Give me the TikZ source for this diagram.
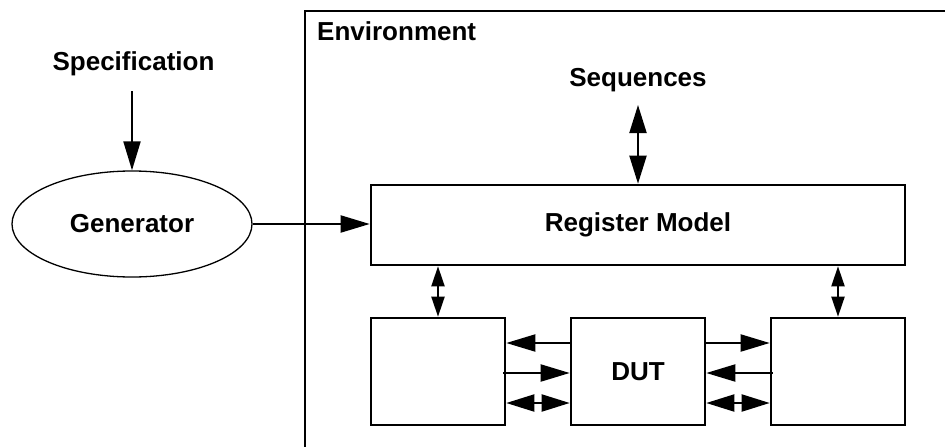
\documentclass[tikz,border=0pt]{standalone}
\usepackage{fontspec}
\setmainfont{Liberation Sans}
\usetikzlibrary{arrows.meta,shapes.geometric}
\begin{document}
\begin{tikzpicture}[x=1pt,y=-1pt,
  lbl/.style={font=\fontsize{26}{30}\selectfont\bfseries, inner sep=0pt},
  blk/.style={draw, line width=2.6pt, inner sep=0pt},
  arr/.style={line width=2pt, -{Triangle[length=29pt,width=17pt]}},
  darr/.style={line width=2pt, {Triangle[length=28pt,width=17pt]}-{Triangle[length=28pt,width=17pt]}},
  sarr/.style={line width=2pt, {Triangle[length=20pt,width=13pt]}-{Triangle[length=20pt,width=13pt]}}]
\useasboundingbox (0,0) rectangle (945,447);
% environment frame
\draw[line width=2.6pt] (305,447) -- (305,11) -- (946,11);
\node[lbl, anchor=base west] (envl) at (317,40) {Environment};
% outside
\node[lbl, anchor=base] (spec) at (133.5,70) {Specification};
\node[draw, ellipse, line width=1.3pt, minimum width=240pt, minimum height=106pt, inner sep=0pt] (gen) at (132,224) {};
\node[lbl] at (gen.center) {Generator};
% inside
\node[lbl, anchor=base] (seq) at (638,86) {Sequences};
\node[blk, minimum width=534pt, minimum height=80pt] (reg) at (638,225) {};
\node[lbl] at (reg.center) {Register Model};
\node[blk, minimum width=134pt, minimum height=107pt] (lbox) at (438,371.5) {};
\node[blk, minimum width=134pt, minimum height=107pt] (dut) at (638,371.5) {};
\node[lbl] at (dut.center) {DUT};
\node[blk, minimum width=134pt, minimum height=107pt] (rbox) at (838,371.5) {};
% connectors
\draw[arr] (gen.north |- 0,91) -- (gen.north);
\draw[arr] (gen.east) -- (reg.west |- gen.east);
\draw[darr] (reg.north |- 0,105) -- (reg.north);
\draw[sarr] (lbox.north |- reg.south) -- (lbox.north);
\draw[sarr] (rbox.north |- reg.south) -- (rbox.north);
% left side
\draw[arr] (dut.west |- 0,343) -- (lbox.east |- 0,343);
\draw[arr] ([xshift=-3pt]lbox.east |- 0,373) -- (dut.west |- 0,373);
\draw[darr] (lbox.east |- 0,403) -- (dut.west |- 0,403);
% right side
\draw[arr] (dut.east |- 0,343) -- (rbox.west |- 0,343);
\draw[arr] ([xshift=3pt]rbox.west |- 0,373) -- (dut.east |- 0,373);
\draw[darr] (dut.east |- 0,403) -- (rbox.west |- 0,403);
\end{tikzpicture}
\end{document}
